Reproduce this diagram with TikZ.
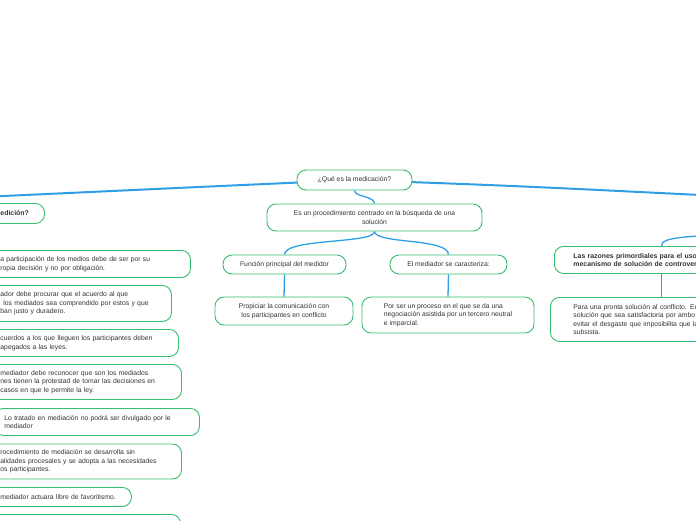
\documentclass[tikz,border=0pt]{standalone}
\usepackage{fontspec}
\setmainfont{Liberation Sans}
\usetikzlibrary{backgrounds}
\definecolor{mmgreen}{HTML}{34BE6E}
\definecolor{mmblue}{HTML}{2E9EE6}
\definecolor{mmtext}{HTML}{333333}
\tikzset{
  box/.style={draw=mmgreen, line width=0.9pt, rounded corners=9pt, fill=white,
    text=mmtext, font=\fontsize{6.8}{8.6}\selectfont, inner ysep=0pt},
  cbox/.style={box, align=center, inner xsep=2pt},
  lbox/.style={box, align=left, anchor=north west, inner xsep=10pt},
  bbox/.style={box, font=\fontsize{6.9}{8.6}\selectfont\bfseries},
  mainlink/.style={draw=mmblue, line width=2pt, line cap=round},
  sublink/.style={draw=mmblue, line width=1.3pt},
}
\begin{document}
\begin{tikzpicture}[x=1pt,y=-1pt]
\useasboundingbox (0,0) rectangle (696,520);
\clip (0,0) rectangle (696,520);

% centre
\node[cbox, minimum width=115pt, minimum height=20pt] (q) at (354.5,180) {¿Qué es la medicación?};
\node[cbox, minimum width=215pt, minimum height=27pt] (e) at (374.5,217.5) {Es un procedimiento centrado en la búsqueda de una\\solución};
\node[cbox, minimum width=123pt, minimum height=19pt] (f) at (284.5,264.5) {Función principal del medidor};
\node[cbox, minimum width=117pt, minimum height=19pt] (g) at (448.5,264.5) {El mediador se caracteriza:};
\node[cbox, minimum width=138pt, minimum height=28pt] (h) at (284,311) {Propiciar la comunicación con\\los participantes en conflicto};
\node[box, align=left, minimum width=172pt, minimum height=36pt] (i) at (448,315) {Por ser un proceso en el que se da una\\negociación asistida por un tercero neutral\\e imparcial.};

% right
\node[bbox, align=left, anchor=north west, inner xsep=19pt, text width=176pt, minimum height=27pt] (r) at (554,246) {Las razones primordiales para el uso\\mecanismo de solución de controver};
\node[box, align=left, anchor=north west, inner xsep=23pt, text width=176pt, minimum height=44pt] (p) at (550,297) {Para una pronta solución al conflicto. En\\solución que sea satisfactoria por ambo\\evitar el desgaste que imposibilita que la\\subsista.};

% left
\node[bbox, align=left, anchor=north west, inner xsep=10pt, text width=34pt, minimum height=20pt] (m) at (-10,203) {edición?};
\node[lbox, text width=180pt, minimum height=27pt] (l1) at (-10,250) {a participación de los medios debe de ser por su\\ropia decisión y no por obligación.};
\node[lbox, text width=161pt, minimum height=36pt] (l2) at (-10,285) {ador debe procurar que el acuerdo al que\\\hspace*{3pt}los mediados sea comprendido por estos y que\\ban justo y duradero.};
\node[lbox, text width=168pt, minimum height=27pt] (l3) at (-10,329) {cuerdos a los que lleguen los participantes deben\\apegados a las leyes.};
\node[lbox, text width=171pt, minimum height=35pt] (l4) at (-10,364) {mediador debe reconocer que son los mediados\\nes tienen la protestad de tomar las decisiones en\\casos en que le permite la ley.};
\node[lbox, text width=185pt, minimum height=27pt] (l5) at (-6,408) {Lo tratado en mediación no podrá ser divulgado por le\\mediador};
\node[lbox, text width=171pt, minimum height=35pt] (l6) at (-10,443.5) {rocedimiento de mediación se desarrolla sin\\alidades procesales y se adopta a las necesidades\\os participantes.};
\node[lbox, text width=121pt, minimum height=19pt] (l7) at (-10,487) {mediador actuara libre de favoritismo.};
\node[lbox, text width=170pt, minimum height=30pt] (l8) at (-10,514) {};

\coordinate (Lpar) at (-40,198);
\coordinate (Rpar) at (760,198);
\coordinate (Rsub) at (760,232);

\begin{scope}[on background layer]
\clip (0,0) rectangle (696,520);
\draw[mainlink] (q.center) .. controls (220,186) .. (Lpar);
\draw[mainlink] (q.center) .. controls (520,186) .. (Rpar);
\draw[sublink] (q.south) .. controls (354.5,197) and (374.5,196) .. (e.north);
\draw[sublink] (e.south) .. controls (374.5,244) and (284.5,238) .. (f.north);
\draw[sublink] (e.south) .. controls (374.5,244) and (448.5,238) .. (g.north);
\draw[sublink] (f.south) -- (h.north);
\draw[sublink] (g.south) -- (i.north);
\draw[sublink] (r.north) .. controls (661,236) and (690,237) .. (Rsub);
\draw[sublink] (r.south) -- (p.north);
\end{scope}
\end{tikzpicture}
\end{document}
